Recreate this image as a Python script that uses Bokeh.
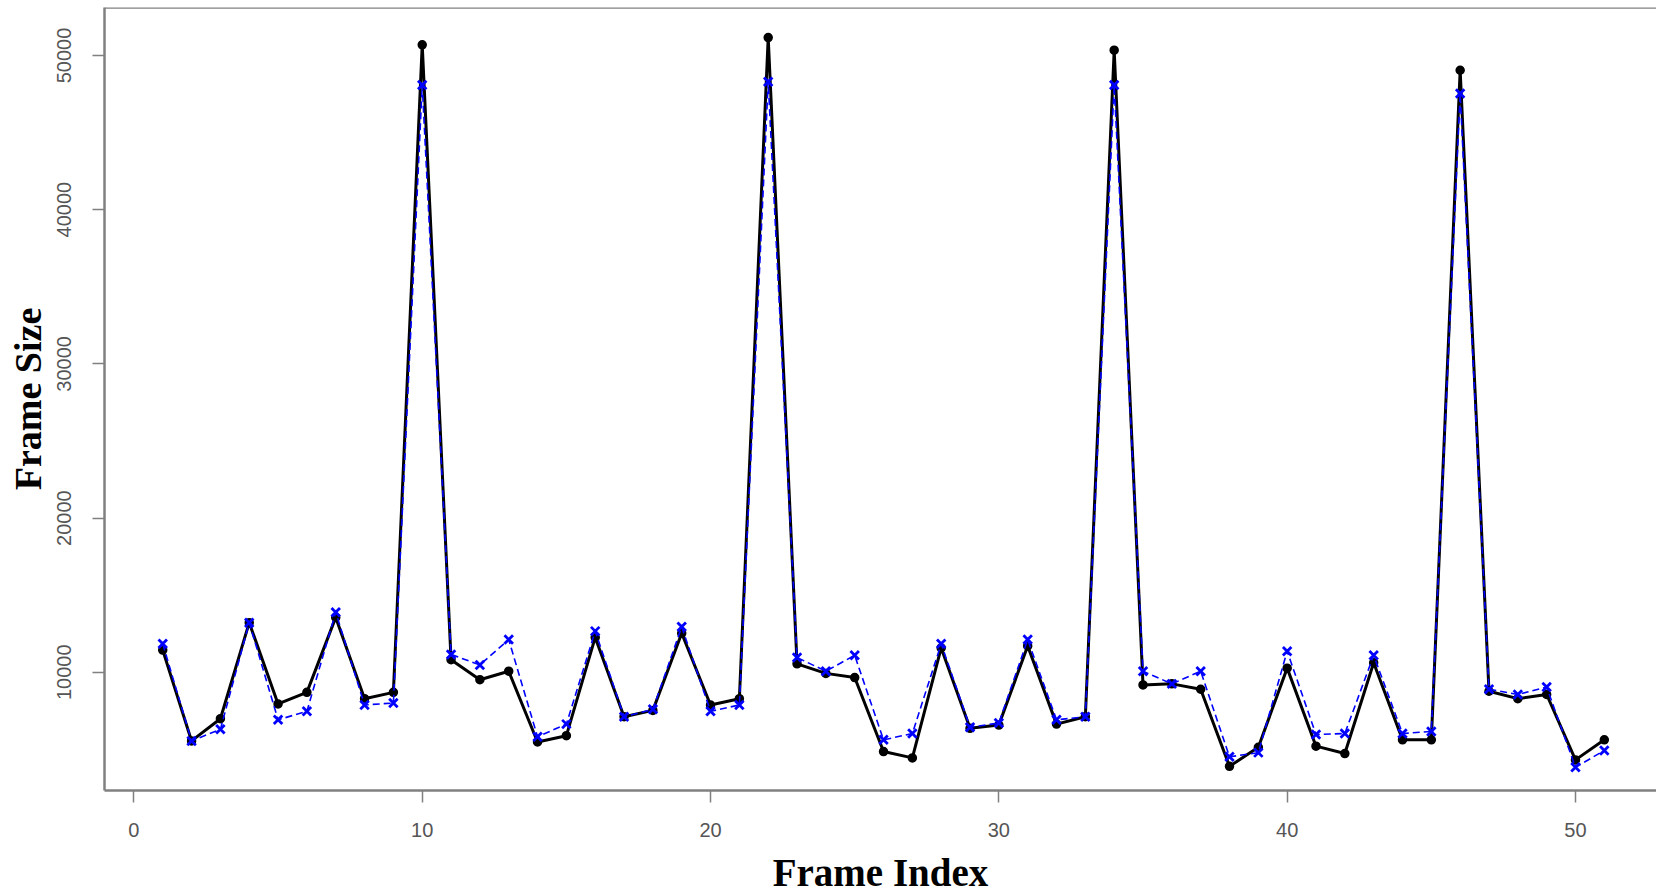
from bokeh.plotting import figure
from bokeh.models import Range1d, FixedTicker, Span, BasicTickFormatter
from bokeh.embed import file_html
from bokeh.resources import INLINE

frame_index = list(range(1, 52))

# black series (solid line, circles)
size_black = [11440, 5550, 6990, 13220, 7950, 8700, 13560, 8290, 8700, 50690,
              10820, 9520, 10070, 5480, 5890, 12260, 7120, 7530, 12530, 7880,
              8290, 51160, 10550, 9930, 9660, 4860, 4450, 11580, 6370, 6580,
              11710, 6640, 7120, 50340, 9180, 9250, 8900, 3900, 5140, 10270,
              5210, 4730, 10620, 5620, 5620, 49040, 8770, 8290, 8560, 4320,
              5620]

# blue series (dashed line, x markers)
size_blue = [11850, 5550, 6300, 13220, 6920, 7470, 13900, 7880, 8010, 48080,
             11160, 10480, 12120, 5820, 6640, 12670, 7120, 7600, 12950, 7470,
             7880, 48290, 10960, 10070, 11100, 5620, 6030, 11850, 6440, 6710,
             12120, 6920, 7120, 48080, 10070, 9250, 10070, 4520, 4790, 11370,
             5960, 6030, 11100, 6030, 6160, 47530, 8900, 8560, 9040, 3840,
             4930]

x_ticks = [0, 10, 20, 30, 40, 50]
y_ticks = [10000, 20000, 30000, 40000, 50000]

X_START, X_END = -1.02, 52.81
Y_START, Y_END = 2335, 53110

p = figure(width=1656, height=896, output_backend="svg", toolbar_location=None,
           x_range=Range1d(X_START, X_END), y_range=Range1d(Y_START, Y_END),
           min_border_left=104, min_border_right=0, min_border_top=7,
           min_border_bottom=102)

p.background_fill_color = "white"
p.border_fill_color = "white"
p.outline_line_color = None
p.xgrid.visible = False
p.ygrid.visible = False

# black series
p.line(frame_index, size_black, line_color="black", line_width=3)
p.scatter(frame_index, size_black, marker="circle", size=8,
          fill_color="black", line_color="black", line_width=1.5)

# blue series
p.line(frame_index, size_blue, line_color="#0000FF", line_width=1.6,
       line_dash="7 4")
p.scatter(frame_index, size_blue, marker="x", size=12,
          line_color="#0000FF", line_width=2.8)

# top border of the box
p.add_layout(Span(location=Y_END, dimension="width", line_color="#808080",
                  line_width=2.5))

grey = "#808080"
for ax in (p.xaxis[0], p.yaxis[0]):
    ax.axis_line_color = grey
    ax.axis_line_width = 2.5
    ax.major_tick_line_color = grey
    ax.major_tick_line_width = 1.5
    ax.major_tick_out = 12
    ax.major_tick_in = 0
    ax.minor_tick_line_color = None
    ax.major_label_text_font = "Liberation Sans"
    ax.major_label_text_font_size = "20px"
    ax.major_label_text_color = "#555555"
    ax.axis_label_text_font = "Liberation Serif"
    ax.axis_label_text_font_style = "bold"
    ax.axis_label_text_color = "black"

p.xaxis.ticker = FixedTicker(ticks=x_ticks)
p.yaxis.ticker = FixedTicker(ticks=y_ticks)
p.yaxis.formatter = BasicTickFormatter(use_scientific=False)
p.yaxis.major_label_orientation = "vertical"

p.xaxis.axis_label = "Frame Index"
p.xaxis.axis_label_text_font_size = "39px"
p.xaxis.major_label_standoff = 20
p.xaxis.axis_label_standoff = 11

p.yaxis.axis_label = "Frame Size"
p.yaxis.axis_label_text_font_size = "38px"
p.yaxis.major_label_standoff = 21
p.yaxis.axis_label_standoff = 6

open("out.html", "w").write(file_html(p, INLINE))
